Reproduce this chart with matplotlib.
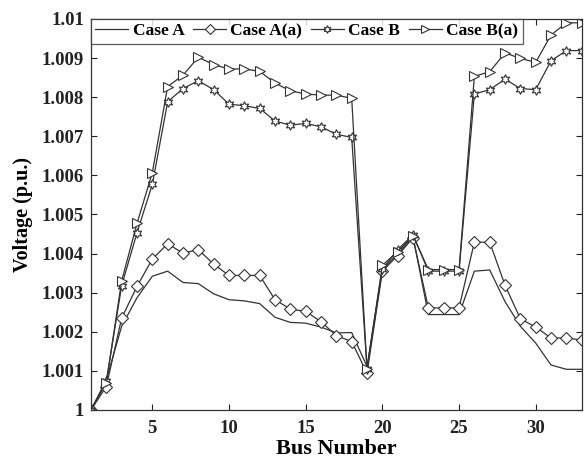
import matplotlib
matplotlib.use("Agg")
import matplotlib.pyplot as plt
import numpy as np

bus = list(range(1, 34))

case_a = [0.0, 0.00077, 0.00214, 0.00287, 0.00342, 0.00355, 0.00326, 0.00323, 0.00297, 0.00282,
          0.00279, 0.00272, 0.00237, 0.00224, 0.00222, 0.00212, 0.00197, 0.00198, 0.00111, 0.00359,
          0.00400, 0.00443, 0.00244, 0.00244, 0.00244, 0.00355, 0.00358, 0.00277, 0.00214, 0.00171,
          0.00115, 0.00104, 0.00104]
case_aa = [0.0, 0.00060, 0.00235, 0.00316, 0.00386, 0.00425, 0.00401, 0.00410, 0.00373, 0.00344,
           0.00344, 0.00344, 0.00282, 0.00258, 0.00252, 0.00226, 0.00190, 0.00175, 0.00094, 0.00355,
           0.00395, 0.00440, 0.00261, 0.00261, 0.00261, 0.00429, 0.00429, 0.00319, 0.00233, 0.00212,
           0.00184, 0.00184, 0.00179]
case_b = [0.0, 0.00073, 0.00318, 0.00453, 0.00577, 0.00788, 0.00822, 0.00842, 0.00819, 0.00782,
          0.00778, 0.00771, 0.00739, 0.00728, 0.00733, 0.00724, 0.00705, 0.00697, 0.00105, 0.00360,
          0.00410, 0.00448, 0.00355, 0.00355, 0.00355, 0.00808, 0.00819, 0.00846, 0.00822, 0.00819,
          0.00893, 0.00919, 0.00919]
case_ba = [0.0, 0.00070, 0.00330, 0.00477, 0.00607, 0.00827, 0.00856, 0.00902, 0.00883, 0.00872,
           0.00872, 0.00866, 0.00836, 0.00816, 0.00808, 0.00805, 0.00805, 0.00797, 0.00105, 0.00370,
           0.00405, 0.00446, 0.00359, 0.00359, 0.00359, 0.00853, 0.00865, 0.00913, 0.00899, 0.00889,
           0.00959, 0.00990, 0.00990]

labels = ["Case A", "Case A(a)", "Case B", "Case B(a)"]
yticks = [1.0, 1.001, 1.002, 1.003, 1.004, 1.005, 1.006, 1.007, 1.008, 1.009, 1.01]
ytick_labels = ["1", "1.001", "1.002", "1.003", "1.004", "1.005", "1.006", "1.007", "1.008", "1.009", "1.01"]
xticks = [5, 10, 15, 20, 25, 30]

plt.rcParams['font.family'] = ['Liberation Serif', 'DejaVu Serif']
plt.rcParams['font.weight'] = 'bold'

fig = plt.figure(figsize=(5.87, 4.59), dpi=100)
ax = fig.add_axes([0.155, 0.1068, 0.836, 0.852])

lc = '#333333'
lw = 0.9
ms = 7
ax.plot(bus, 1 + np.array(case_a), color=lc, lw=lw, label=labels[0])
ax.plot(bus, 1 + np.array(case_aa), color=lc, lw=lw, marker='D', ms=6, mfc='white', mec=lc, mew=0.8, label=labels[1])
ax.plot(bus, 1 + np.array(case_b), color=lc, lw=lw, marker=(6, 1, 0), ms=ms, mfc='white', mec=lc, mew=0.8, label=labels[2])
ax.plot(bus, 1 + np.array(case_ba), color=lc, lw=lw, marker='>', ms=ms, mfc='white', mec=lc, mew=0.8, label=labels[3])

ax.set_xlim(1, 33)
ax.set_ylim(1.0, 1.01)
ax.set_xticks(xticks)
ax.set_xticklabels([str(t) for t in xticks])
ax.set_yticks(yticks)
ax.set_yticklabels(ytick_labels)
ax.tick_params(direction='in', top=True, right=True, labelsize=13.5, length=4, width=0.8, colors='#222222')
ax.tick_params(axis='x', pad=7)
ax.tick_params(axis='y', pad=5)
for lab in ax.get_xticklabels() + ax.get_yticklabels():
    lab.set_fontweight('bold')
for s in ax.spines.values():
    s.set_color('#333333')
    s.set_linewidth(0.9)

ax.set_xlabel("Bus Number", fontsize=16, fontweight='bold', labelpad=2)
ax.set_ylabel("Voltage (p.u.)", fontsize=14.5, fontweight='bold', labelpad=6)

leg = ax.legend(loc='upper left', ncol=4, bbox_to_anchor=(0.0, 1.0),
                frameon=True, fancybox=False, edgecolor='#333333', handlelength=1.9,
                handletextpad=0.25, columnspacing=0.5, borderpad=0.25, borderaxespad=0.0,
                markerscale=0.8, prop={'weight': 'bold', 'size': 12.5})
leg.get_frame().set_linewidth(0.9)

fig.savefig("out.png", dpi=100, facecolor='white')
